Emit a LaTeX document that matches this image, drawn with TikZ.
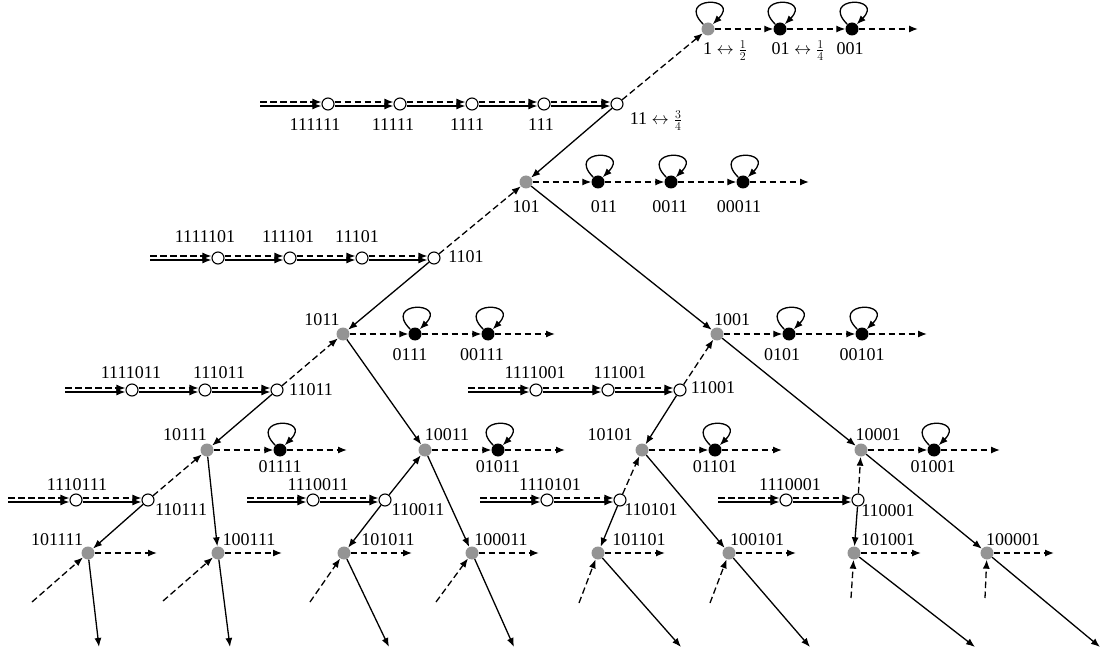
\documentclass[tikz,border=0pt]{standalone}
\usepackage{fontspec}
\setmainfont{Liberation Serif}
\usetikzlibrary{arrows.meta}
\tikzset{
 gnode/.style={circle,fill=black!42,inner sep=0pt,minimum size=13pt},
 bnode/.style={circle,fill=black,inner sep=0pt,minimum size=13pt},
 wnode/.style={circle,draw=black,fill=white,line width=1.1pt,inner sep=0pt,minimum size=12pt},
 lbl/.style={anchor=base,inner sep=0pt,font=\fontsize{18}{21}\selectfont},
 arr/.style={-{Latex[length=9pt,width=7pt]},line width=1.3pt},
 darr/.style={arr,dash pattern=on 6.5pt off 3.5pt},
 loopy/.style={arr,out=135,in=45,loop,min distance=40pt},
}
\newcommand\dblline[2]{%
 \draw[darr,transform canvas={yshift=2pt}] (#1) -- (#2);
 \draw[arr,transform canvas={yshift=-2pt}] (#1) -- (#2);}
\begin{document}
\begin{tikzpicture}[x=1pt,y=-1pt]
\useasboundingbox (0,0) rectangle (1109,655);
% ---- row 0
\node[gnode] (g1) at (708,29) {};
\node[bnode] (b01) at (780,29) {};
\node[bnode] (b001) at (852,29) {};
\coordinate (e0) at (918,29);
\node[lbl] (l1) at (725,55) {1 $\leftrightarrow \frac{1}{2}$};
\node[lbl] (l01) at (798,55) {01 $\leftrightarrow \frac{1}{4}$};
\node[lbl] (l001) at (850,55) {001};
% ---- row 1
\coordinate (s1) at (260,104);
\node[wnode] (w111111) at (328,104) {};
\node[wnode] (w11111) at (400,104) {};
\node[wnode] (w1111) at (472,104) {};
\node[wnode] (w111) at (544,104) {};
\node[wnode] (w11) at (617,104) {};
\node[lbl] (l111111) at (315,131) {111111};
\node[lbl] (l11111) at (393,131) {11111};
\node[lbl] (l1111) at (467,131) {1111};
\node[lbl] (l111) at (541,131) {111};
\node[lbl] (l11) at (656,125) {11 $\leftrightarrow \frac{3}{4}$};
% ---- row 2
\node[gnode] (g101) at (526,182) {};
\node[bnode] (b011) at (598,182) {};
\node[bnode] (b0011) at (671,182) {};
\node[bnode] (b00011) at (743,182) {};
\coordinate (e2) at (809,182);
\node[lbl] (l101) at (526,213) {101};
\node[lbl] (l011) at (604,213) {011};
\node[lbl] (l0011) at (670,213) {0011};
\node[lbl] (l00011) at (739,213) {00011};
% ---- row 3
\coordinate (s3) at (150,258);
\node[wnode] (w1111101) at (218,258) {};
\node[wnode] (w111101) at (290,258) {};
\node[wnode] (w11101) at (362,258) {};
\node[wnode] (w1101) at (434,258) {};
\node[lbl] (l1111101) at (205,243) {1111101};
\node[lbl] (l111101) at (288,243) {111101};
\node[lbl] (l11101) at (357,243) {11101};
\node[lbl] (l1101) at (466,263) {1101};
% ---- row 4
\node[gnode] (g1011) at (343,334) {};
\node[bnode] (b0111) at (415,334) {};
\node[bnode] (b00111) at (488,334) {};
\coordinate (e4a) at (555,334);
\node[gnode] (g1001) at (717,334) {};
\node[bnode] (b0101) at (789,334) {};
\node[bnode] (b00101) at (862,334) {};
\coordinate (e4b) at (927,334);
\node[lbl] (l1011) at (322,325) {1011};
\node[lbl] (l0111) at (410,360) {0111};
\node[lbl] (l00111) at (482,360) {00111};
\node[lbl] (l1001) at (732,326) {1001};
\node[lbl] (l0101) at (782,360) {0101};
\node[lbl] (l00101) at (862,360) {00101};
% ---- row 5
\coordinate (s5a) at (65,390);
\node[wnode] (w1111011) at (132,390) {};
\node[wnode] (w111011) at (205,390) {};
\node[wnode] (w11011) at (277,390) {};
\coordinate (s5b) at (468,390);
\node[wnode] (w1111001) at (536,390) {};
\node[wnode] (w111001) at (608,390) {};
\node[wnode] (w11001) at (680,390) {};
\node[lbl] (l1111011) at (131,378) {1111011};
\node[lbl] (l111011) at (219,378) {111011};
\node[lbl] (l11011) at (311,395) {11011};
\node[lbl] (l1111001) at (535,378) {1111001};
\node[lbl] (l111001) at (620,378) {111001};
\node[lbl] (l11001) at (713,393) {11001};
% ---- row 6
\node[gnode] (g10111) at (207,450) {};
\node[bnode] (b01111) at (280,450) {};
\coordinate (e6a) at (347,450);
\node[gnode] (g10011) at (425,450) {};
\node[bnode] (b01011) at (498,450) {};
\coordinate (e6b) at (565,450);
\node[gnode] (g10101) at (642,450) {};
\node[bnode] (b01101) at (715,450) {};
\coordinate (e6c) at (782,450);
\node[gnode] (g10001) at (861,450) {};
\node[bnode] (b01001) at (934,450) {};
\coordinate (e6d) at (1000,450);
\node[lbl] (l10111) at (185,440) {10111};
\node[lbl] (l01111) at (280,472) {01111};
\node[lbl] (l10011) at (447,440) {10011};
\node[lbl] (l01011) at (498,472) {01011};
\node[lbl] (l10101) at (610,440) {10101};
\node[lbl] (l01101) at (715,472) {01101};
\node[lbl] (l10001) at (878,440) {10001};
\node[lbl] (l01001) at (933,472) {01001};
% ---- row 7
\coordinate (s7a) at (8,500);
\node[wnode] (w1110111) at (76,500) {};
\node[wnode] (w110111) at (148,500) {};
\coordinate (s7b) at (247,500);
\node[wnode] (w1110011) at (313,500) {};
\node[wnode] (w110011) at (385,500) {};
\coordinate (s7c) at (480,500);
\node[wnode] (w1110101) at (547,500) {};
\node[wnode] (w110101) at (620,500) {};
\coordinate (s7d) at (718,500);
\node[wnode] (w1110001) at (786,500) {};
\node[wnode] (w110001) at (858,500) {};
\node[lbl] (l1110111) at (77,490) {1110111};
\node[lbl] (l110111) at (181,515) {110111};
\node[lbl] (l1110011) at (318,490) {1110011};
\node[lbl] (l110011) at (418,515) {110011};
\node[lbl] (l1110101) at (550,490) {1110101};
\node[lbl] (l110101) at (651,515) {110101};
\node[lbl] (l1110001) at (790,490) {1110001};
\node[lbl] (l110001) at (888,516) {110001};
% ---- row 8
\foreach \n/\x/\lx/\rx/\ix/\iy/\dx in {
  101111/88/57/157/32/602/99,
  100111/218/249/282/163/601/230,
  101011/344/388/412/310/602/389,
  100011/472/501/539/436/602/514,
  101101/598/639/665/579/603/681,
  100101/729/757/796/710/603/810,
  101001/854/888/921/851/598/975,
  100001/987/1013/1054/985/598/1100}{
  \node[gnode] (g\n) at (\x,553) {};
  \node[lbl] (l\n) at (\lx,545) {\n};
  \coordinate (r\n) at (\rx,553);
  \coordinate (i\n) at (\ix,\iy);
  \coordinate (d\n) at (\dx,647);
  \draw[darr] (g\n) -- (r\n);
  \draw[darr] (i\n) -- (g\n);
  \draw[arr] (g\n) -- (d\n);
}
% ---- double chains
\dblline{s1}{w111111}\dblline{w111111}{w11111}\dblline{w11111}{w1111}
\dblline{w1111}{w111}\dblline{w111}{w11}
\dblline{s3}{w1111101}\dblline{w1111101}{w111101}\dblline{w111101}{w11101}\dblline{w11101}{w1101}
\dblline{s5a}{w1111011}\dblline{w1111011}{w111011}\dblline{w111011}{w11011}
\dblline{s5b}{w1111001}\dblline{w1111001}{w111001}\dblline{w111001}{w11001}
\dblline{s7a}{w1110111}\dblline{w1110111}{w110111}
\dblline{s7b}{w1110011}\dblline{w1110011}{w110011}
\dblline{s7c}{w1110101}\dblline{w1110101}{w110101}
\dblline{s7d}{w1110001}\dblline{w1110001}{w110001}
% ---- horizontal dashed chains
\draw[darr] (g1) -- (b01); \draw[darr] (b01) -- (b001); \draw[darr] (b001) -- (e0);
\draw[darr] (g101) -- (b011); \draw[darr] (b011) -- (b0011); \draw[darr] (b0011) -- (b00011); \draw[darr] (b00011) -- (e2);
\draw[darr] (g1011) -- (b0111); \draw[darr] (b0111) -- (b00111); \draw[darr] (b00111) -- (e4a);
\draw[darr] (g1001) -- (b0101); \draw[darr] (b0101) -- (b00101); \draw[darr] (b00101) -- (e4b);
\draw[darr] (g10111) -- (b01111); \draw[darr] (b01111) -- (e6a);
\draw[darr] (g10011) -- (b01011); \draw[darr] (b01011) -- (e6b);
\draw[darr] (g10101) -- (b01101); \draw[darr] (b01101) -- (e6c);
\draw[darr] (g10001) -- (b01001); \draw[darr] (b01001) -- (e6d);
% ---- dashed upward edges
\draw[darr] (w11) -- (g1);
\draw[darr] (w1101) -- (g101);
\draw[darr] (w11011) -- (g1011);
\draw[darr] (w11001) -- (g1001);
\draw[darr] (w110111) -- (g10111);
\draw[darr] (w110101) -- (g10101);
\draw[darr] (w110001) -- (g10001);
% ---- solid tree edges
\draw[arr] (w11) -- (g101);
\draw[arr] (g101) -- (g1001);
\draw[arr] (w1101) -- (g1011);
\draw[arr] (g1011) -- (g10011);
\draw[arr] (w11011) -- (g10111);
\draw[arr] (g10111) -- (g100111);
\draw[arr] (w110111) -- (g101111);
\draw[arr] (w110011) -- (g10011);
\draw[arr] (w110011) -- (g101011);
\draw[arr] (g10011) -- (g100011);
\draw[arr] (w11001) -- (g10101);
\draw[arr] (g10101) -- (g100101);
\draw[arr] (w110101) -- (g101101);
\draw[arr] (g1001) -- (g10001);
\draw[arr] (w110001) -- (g101001);
\draw[arr] (g10001) -- (g100001);
% ---- loops
\foreach \n in {g1,b01,b001,b011,b0011,b00011,b0111,b00111,b0101,b00101,b01111,b01011,b01101,b01001}
  \path (\n) edge[loopy] (\n);
\end{tikzpicture}
\end{document}
